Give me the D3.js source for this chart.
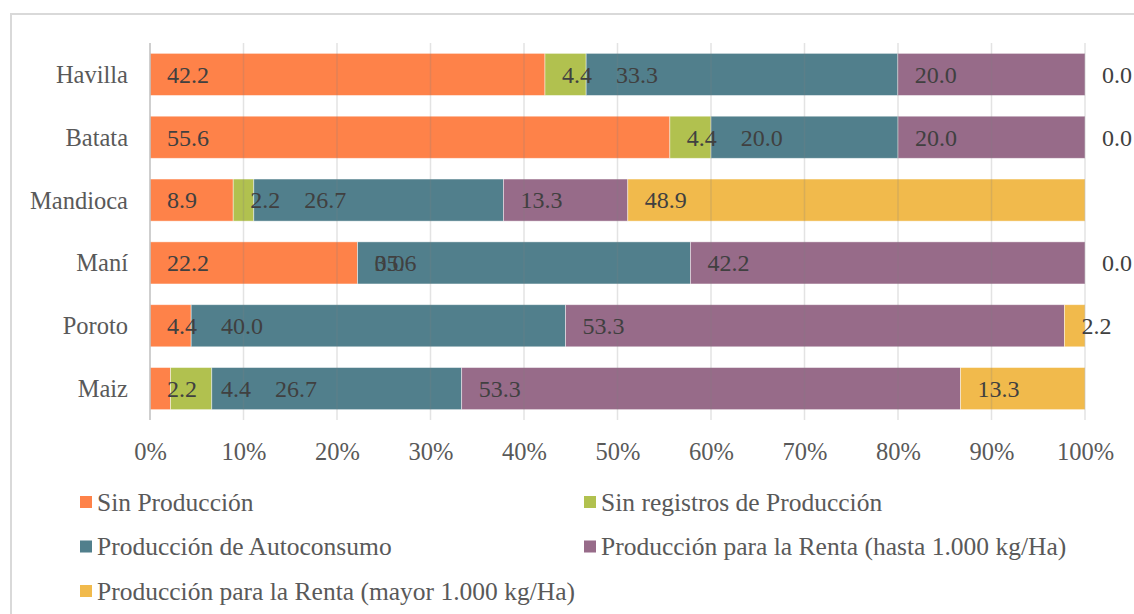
<!DOCTYPE html>
<html>
<head>
<meta charset="utf-8">
<script src="https://cdn.jsdelivr.net/npm/d3@7"></script>
<style>
  body { margin: 0; background: #fff; }
  svg { display: block; font-family: "Liberation Serif", "DejaVu Serif", serif; }
</style>
</head>
<body>
<svg id="chart" width="1134" height="614"></svg>
<script>
// Cultivos, porcentaje de productores por categoría
const categorias = ["Havilla", "Batata", "Mandioca", "Maní", "Poroto", "Maiz"];
const series = [
  "Sin Producción",
  "Sin registros de Producción",
  "Producción de Autoconsumo",
  "Producción para la Renta (hasta 1.000 kg/Ha)",
  "Producción para la Renta (mayor 1.000 kg/Ha)"
];
const sinProduccion = [42.2, 55.6, 8.9, 22.2, 4.4, 2.2];
const sinRegistros  = [4.4, 4.4, 2.2, 0.0, null, 4.4];
const autoconsumo   = [33.3, 20.0, 26.7, 35.6, 40.0, 26.7];
const rentaHasta    = [20.0, 20.0, 13.3, 42.2, 53.3, 53.3];
const rentaMayor    = [0.0, 0.0, 48.9, 0.0, 2.2, 13.3];
const ticks = [0, 10, 20, 30, 40, 50, 60, 70, 80, 90, 100];

const colores = ["#fe8249", "#b1c14f", "#517f8c", "#976b89", "#f1ba4c"];
const valores = [sinProduccion, sinRegistros, autoconsumo, rentaHasta, rentaMayor];

const width = 1134, height = 614;
const margin = {top: 43, right: 49, bottom: 194, left: 150};

const svg = d3.select("#chart");

// marco del gráfico
svg.append("rect")
    .attr("x", 11).attr("y", 14)
    .attr("width", width).attr("height", height)
    .attr("fill", "#fff")
    .attr("stroke", "#d9d9d9")
    .attr("stroke-width", 2);

const x = d3.scaleLinear()
    .domain([0, 100])
    .range([margin.left, width - margin.right]);

const y = d3.scaleBand()
    .domain(categorias)
    .range([margin.top, 420])
    .paddingInner(0.33)
    .paddingOuter(0.165);

// filas apiladas al 100%
const filas = categorias.map((c, i) => {
  const total = d3.sum(valores, v => v[i] || 0);
  let acc = 0;
  return valores.map((v, j) => {
    const val = v[i];
    const x0 = acc / total * 100;
    acc += val || 0;
    return {cat: c, serie: j, value: val, x0, x1: acc / total * 100};
  });
});

const g = svg.append("g");

g.selectAll("g.fila")
  .data(filas)
  .join("g")
    .attr("class", "fila")
  .selectAll("rect")
  .data(d => d)
  .join("rect")
    .attr("x", d => x(d.x0))
    .attr("y", d => y(d.cat))
    .attr("width", d => Math.max(0, x(d.x1) - x(d.x0)))
    .attr("height", y.bandwidth())
    .attr("fill", d => colores[d.serie])
    .attr("stroke", "#fff")
    .attr("stroke-opacity", 0.55)
    .attr("stroke-width", 0.8);

// líneas de división (sobre las barras, como en el original)
const y0 = y.range()[0], y1 = y.range()[1];
svg.append("g")
  .selectAll("line")
  .data(ticks)
  .join("line")
    .attr("x1", d => x(d)).attr("x2", d => x(d))
    .attr("y1", y0).attr("y2", y1)
    .attr("stroke", d => d === 0 ? "#bfbfbf" : "#808080")
    .attr("stroke-opacity", d => d === 0 ? 1 : 0.22)
    .attr("stroke-width", 1.5);

// etiquetas de datos en la base de cada segmento
const labels = svg.append("g")
    .attr("font-size", 24)
    .attr("fill", "#404040");

filas.forEach(fila => {
  let fin = -Infinity;
  fila.forEach(d => {
    if (d.value === null) return;
    let px = x(d.x0) + 17;
    if (d.value > 0 && px < fin + 24) px = fin + 24;
    const t = labels.append("text")
        .attr("x", px)
        .attr("y", y(d.cat) + y.bandwidth() / 2)
        .attr("dy", "0.35em")
        .text(d.value.toFixed(1));
    if (d.value > 0) fin = px + t.node().getComputedTextLength();
  });
});

// categorías
svg.append("g")
  .selectAll("text")
  .data(categorias)
  .join("text")
    .attr("x", margin.left - 22)
    .attr("y", d => y(d) + y.bandwidth() / 2)
    .attr("dy", "0.35em")
    .attr("text-anchor", "end")
    .attr("font-size", 24.5)
    .attr("fill", "#595959")
    .text(d => d);

// eje x
const xAxis = svg.append("g")
    .attr("transform", `translate(0,${y1 + 22})`)
    .call(d3.axisBottom(x).tickValues(ticks).tickSize(0).tickPadding(0).tickFormat(d => d + "%"));
xAxis.select(".domain").remove();
xAxis.selectAll("text")
    .attr("font-family", "Liberation Serif, serif")
    .attr("font-size", 24.5)
    .attr("fill", "#595959")
    .attr("dy", "0.35em")
    .attr("y", 9);

// leyenda
const leyenda = svg.append("g")
  .selectAll("g")
  .data(series)
  .join("g")
    .attr("transform", (d, i) => `translate(${i % 2 ? 584 : 80},${502 + Math.floor(i / 2) * 44.5})`);

leyenda.append("rect")
    .attr("x", 0).attr("y", -6)
    .attr("width", 12).attr("height", 12)
    .attr("fill", (d, i) => colores[i]);

leyenda.append("text")
    .attr("x", 17)
    .attr("dy", "0.35em")
    .attr("font-size", 25.5)
    .attr("fill", "#595959")
    .text(d => d);
</script>
</body>
</html>
